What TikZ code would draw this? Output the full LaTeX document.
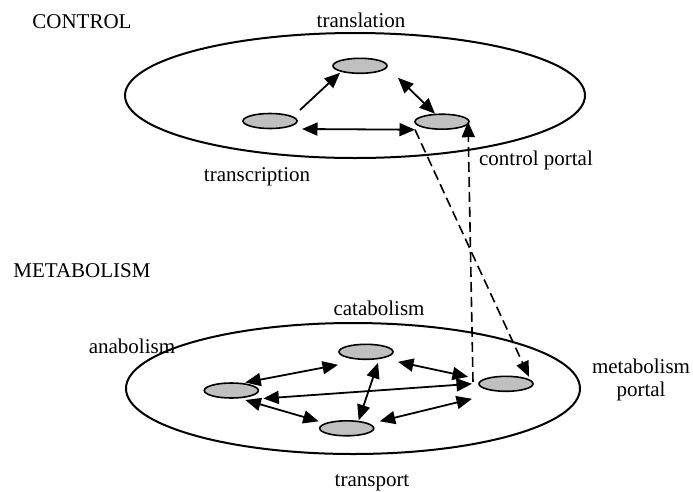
\documentclass[tikz,border=0pt]{standalone}
\usepackage{fontspec}
\setmainfont{Liberation Serif}
\usetikzlibrary{shapes.geometric,arrows.meta}
\definecolor{procgray}{RGB}{192,192,192}
\begin{document}
\begin{tikzpicture}[x=1pt,y=-1pt,
  lbl/.style={font=\fontsize{21}{23}\selectfont, inner sep=0pt, anchor=base},
  world/.style={ellipse, draw, line width=2pt, inner sep=0pt},
  proc/.style={ellipse, draw, line width=1.6pt, fill=procgray, minimum width=54pt, minimum height=15pt, inner sep=0pt},
  arr/.style={line width=1.8pt, -{Triangle[length=15.5pt,width=13pt]}},
  biarr/.style={line width=1.8pt, {Triangle[length=15.5pt,width=13pt]}-{Triangle[length=15.5pt,width=13pt]}},
  portalarr/.style={line width=1.6pt, dash pattern=on 10pt off 5pt, -{Triangle[length=15.5pt,width=13pt]}}
]
\useasboundingbox (0,0) rectangle (693,491);

% worlds
\node[world, minimum width=460pt, minimum height=125pt] (ctrl) at (355,95.5) {};
\node[world, minimum width=454pt, minimum height=131pt] (meta) at (353,388.5) {};

% labels
\node[lbl] (lctrl) at (82,28) {CONTROL};
\node[lbl] (ltransl) at (361,27) {translation};
\node[lbl] (ltransc) at (257,181.5) {transcription};
\node[lbl] (lcport) at (536,165) {control portal};
\node[lbl] (lmeta) at (82,277.5) {METABOLISM};
\node[lbl] (lana) at (132,353.5) {anabolism};
\node[lbl] (lcata) at (379,315) {catabolism};
\node[font=\fontsize{21}{23}\selectfont, inner sep=0pt, align=center] (lmport) at (641,380) {metabolism\\portal};
\node[lbl] (ltrans) at (372,486.5) {transport};

% processes
\node[proc] (transl) at (360,65.8) {};
\node[proc] (transc) at (270,121) {};
\node[proc] (cport) at (442,121.7) {};
\node[proc] (cata) at (366,351.8) {};
\node[proc] (ana) at (231.3,390.5) {};
\node[proc] (trans) at (346.7,428.3) {};
\node[proc] (mport) at (506,383.8) {};

% control connectors
\draw[arr] ([shift={(30,-11)}]transc.center) -- ([shift={(-20,7)}]transl.center);
\draw[biarr] ([shift={(38,12)}]transl.center) -- ([shift={(-7,-8)}]cport.center);
\draw[biarr] ([shift={(32,8)}]transc.center) -- ([shift={(-27,8)}]cport.center);

% metabolism connectors
\draw[biarr] ([shift={(14,-8)}]ana.center) -- ([shift={(-28,13)}]cata.center);
\draw[biarr] ([shift={(32,10)}]cata.center) -- ([shift={(-38,-7)}]mport.center);
\draw[biarr] ([shift={(32,8)}]ana.center) -- ([shift={(-34,0)}]mport.center);
\draw[biarr] ([shift={(12,11)}]cata.center) -- ([shift={(12,-8)}]trans.center);
\draw[biarr] ([shift={(14,9.5)}]ana.center) -- ([shift={(-28,-7)}]trans.center);
\draw[biarr] ([shift={(33,-7)}]trans.center) -- ([shift={(-34,15)}]mport.center);

% portal links
\draw[portalarr] ([shift={(-27,8)}]cport.center) -- ([shift={(23,-7)}]mport.center);
\draw[portalarr] ([shift={(-33,-2)}]mport.center) -- ([shift={(26,0)}]cport.center);
\end{tikzpicture}
\end{document}
